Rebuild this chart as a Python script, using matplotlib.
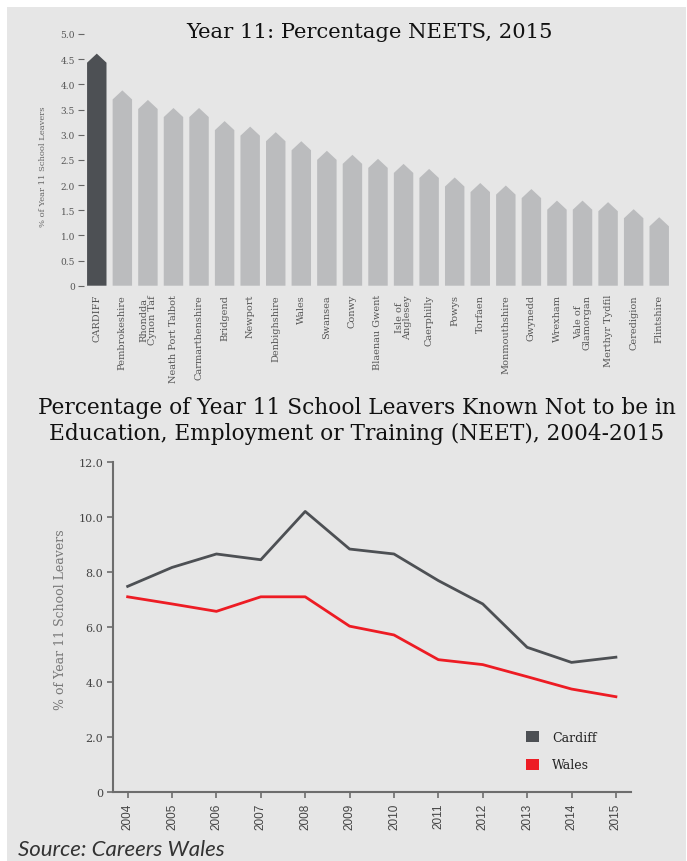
import matplotlib
matplotlib.use("Agg")
import matplotlib.pyplot as plt
from matplotlib.patches import Polygon, Rectangle, Patch

# ---------------- data ----------------
areas = ["CARDIFF", "Pembrokeshire", "Rhondda\nCynon Taf", "Neath Port Talbot",
         "Carmarthenshire", "Bridgend", "Newport", "Denbighshire", "Wales",
         "Swansea", "Conwy", "Blaenau Gwent", "Isle of\nAnglesey", "Caerphilly",
         "Powys", "Torfaen", "Monmouthshire", "Gwynedd", "Wrexham",
         "Vale of\nGlamorgan", "Merthyr Tydfil", "Ceredigion", "Flintshire"]
neet_2015 = [4.61, 3.88, 3.69, 3.53, 3.53, 3.27, 3.16, 3.05, 2.87, 2.68, 2.60,
             2.52, 2.42, 2.32, 2.15, 2.04, 1.99, 1.92, 1.69, 1.69, 1.66, 1.52, 1.36]
bar_yticks = [0, 0.5, 1.0, 1.5, 2.0, 2.5, 3.0, 3.5, 4.0, 4.5, 5.0]
bar_yticklabels = ["0", "0.5", "1.0", "1.5", "2.0", "2.5", "3.0", "3.5", "4.0", "4.5", "5.0"]

years = [2004, 2005, 2006, 2007, 2008, 2009, 2010, 2011, 2012, 2013, 2014, 2015]
cardiff = [7.48, 8.17, 8.66, 8.45, 10.21, 8.84, 8.66, 7.69, 6.84, 5.26, 4.71, 4.90]
wales = [7.10, 6.84, 6.57, 7.10, 7.10, 6.03, 5.71, 4.81, 4.63, 4.19, 3.74, 3.46]
line_yticks = [0, 2, 4, 6, 8, 10, 12]
line_yticklabels = ["0", "2.0", "4.0", "6.0", "8.0", "10.0", "12.0"]

DARK = "#4d5054"
LIGHT = "#bbbcbe"
RED = "#ed1c24"
BG = "#e6e6e6"
SERIF = "DejaVu Serif"

W, H = 687, 862
fig = plt.figure(figsize=(W / 100, H / 100), dpi=100, facecolor="white")
fig.patches.append(Rectangle((7 / W, 0), (686 - 7) / W, (862 - 8) / H,
                             transform=fig.transFigure, facecolor=BG,
                             edgecolor="none", zorder=-10))


def fx(px):
    return px / W


def fy(py):
    return 1 - py / H


# ---------------- bar chart ----------------
ax1 = fig.add_axes([fx(84), fy(286.7), fx(672 - 84), (286.7 - 35) / H])
ax1.set_facecolor("none")
w = 0.76
arrow = 0.18
for i, v in enumerate(neet_2015):
    col = DARK if i == 0 else LIGHT
    sh = v - arrow
    pts = [(i - w / 2, 0), (i - w / 2, sh), (i, v), (i + w / 2, sh), (i + w / 2, 0)]
    ax1.add_patch(Polygon(pts, closed=True, facecolor=col, edgecolor="none"))
ax1.set_xlim(-0.5, len(areas) - 0.5)
ax1.set_ylim(0, 5)
for s in ax1.spines.values():
    s.set_visible(False)
ax1.set_yticks(bar_yticks)
ax1.set_yticklabels(bar_yticklabels, fontfamily=SERIF, fontsize=6.5, color="#555555")
ax1.tick_params(axis="y", length=4, width=0.8, color="#666666", pad=2.5)
ax1.set_xticks(range(len(areas)))
ax1.set_xticklabels(areas, rotation=90, fontfamily=SERIF, fontsize=7,
                    color="#555555", linespacing=0.95, va="top", ha="center")
ax1.tick_params(axis="x", length=0, pad=6)
fig.text(fx(43), fy(167), "% of Year 11 School Leavers", rotation=90,
         fontfamily=SERIF, fontsize=6, color="#666666", ha="center", va="center")
fig.text(fx(370), fy(33), "Year 11: Percentage NEETS, 2015", fontfamily=SERIF,
         fontsize=15.2, color="#111111", ha="center", va="center")

# ---------------- line chart ----------------
fig.text(fx(357), fy(421),
         "Percentage of Year 11 School Leavers Known Not to be in\n"
         "Education, Employment or Training (NEET), 2004-2015",
         fontfamily=SERIF, fontsize=15.6, color="#111111", ha="center",
         va="center", linespacing=1.25)

ax2 = fig.add_axes([fx(113), fy(792.7), fx(631 - 113), (792.7 - 463.3) / H])
ax2.set_facecolor("none")
ax2.plot(years, cardiff, color=DARK, lw=2)
ax2.plot(years, wales, color=RED, lw=2)
ax2.set_xlim(2003.67, 2015.34)
ax2.set_ylim(0, 12)
for s in ["top", "right"]:
    ax2.spines[s].set_visible(False)
for s in ["left", "bottom"]:
    ax2.spines[s].set_color("#6d6d6d")
    ax2.spines[s].set_linewidth(1.5)
ax2.set_yticks(line_yticks)
ax2.set_yticklabels(line_yticklabels, fontfamily=SERIF, fontsize=8, color="#444444")
ax2.set_xticks(years)
ax2.set_xticklabels([str(y) for y in years], rotation=90,
                    fontfamily="Liberation Sans", fontsize=8.5, color="#444444")
ax2.tick_params(axis="both", direction="out", length=4, width=1.2, color="#6d6d6d")
ax2.tick_params(axis="x", pad=4)
ax2.tick_params(axis="y", pad=3)
fig.text(fx(61), fy(620), "% of Year 11 School Leavers", rotation=90,
         fontfamily=SERIF, fontsize=9, color="#777777", ha="center", va="center")

handles = [Patch(facecolor=DARK, edgecolor="none"), Patch(facecolor=RED, edgecolor="none")]
leg = fig.legend(handles, ["Cardiff", "Wales"], loc="upper left",
                 bbox_to_anchor=(fx(526), fy(732)), frameon=False,
                 prop={"family": SERIF, "size": 9}, handlelength=1.0,
                 handleheight=1.0, handletextpad=1.1, labelspacing=1.15,
                 borderpad=0, borderaxespad=0)
for t in leg.get_texts():
    t.set_color("#222222")

fig.text(fx(18), fy(850), "Source: Careers Wales", fontfamily="Lato",
         style="italic", fontweight="normal", fontsize=16, color="#333333",
         ha="left", va="center")

fig.savefig("out.png", dpi=100, facecolor="white")
